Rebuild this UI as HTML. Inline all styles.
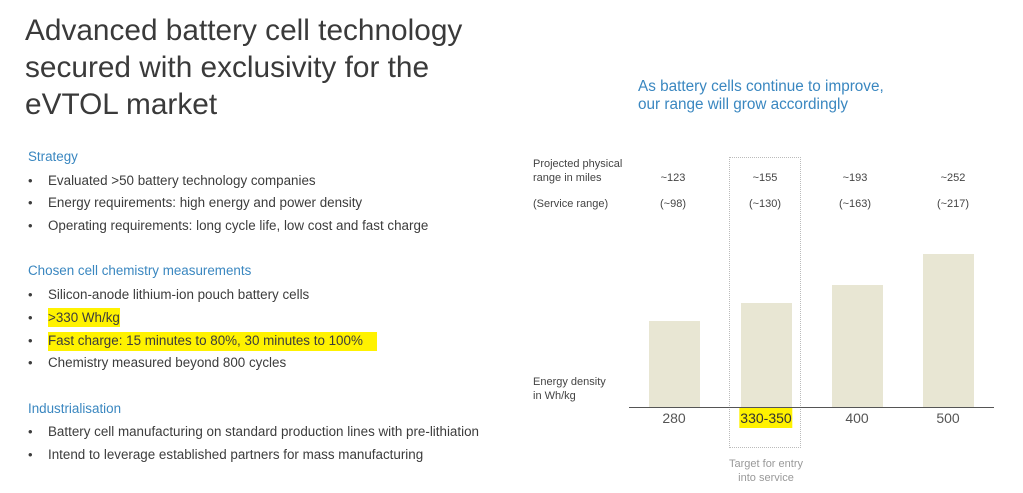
<!DOCTYPE html>
<html><head><meta charset="utf-8"><style>
body{margin:0;width:1023px;height:493px;background:#fff;font-family:"Liberation Sans",sans-serif;position:relative;overflow:hidden;color:#3c3c3c}
.a{position:absolute;white-space:nowrap}
.t{font-size:29.8px;line-height:37px;left:25px;top:12px;color:#3a3a3a}
.h{font-size:13.4px;color:#3a87c0;left:28px}
.b{font-size:13.4px;left:48px}
.d{font-size:13px;left:28px}
.hl{background:#fff200}
.s{font-size:11px;color:#444}
.c{transform:translateX(-50%);text-align:center}
</style></head><body>
<div class="a t">Advanced battery cell technology<br>secured with exclusivity for the<br>eVTOL market</div>
<div class="a h" style="top:149px">Strategy</div>
<div class="a d" style="top:173px">•</div><div class="a b" style="top:173px">Evaluated &gt;50 battery technology companies</div>
<div class="a d" style="top:195px">•</div><div class="a b" style="top:195px">Energy requirements: high energy and power density</div>
<div class="a d" style="top:218px">•</div><div class="a b" style="top:218px">Operating requirements: long cycle life, low cost and fast charge</div>
<div class="a h" style="top:263px">Chosen cell chemistry measurements</div>
<div class="a d" style="top:287px">•</div><div class="a b" style="top:287px">Silicon-anode lithium-ion pouch battery cells</div>
<div class="a d" style="top:310px">•</div><div class="a b hl" style="top:308px;padding:2px 0">&gt;330 Wh/kg</div>
<div class="a d" style="top:333px">•</div><div class="a b hl" style="top:332px;padding:1px 14px 3px 0">Fast charge: 15 minutes to 80%, 30 minutes to 100%</div>
<div class="a d" style="top:355px">•</div><div class="a b" style="top:355px">Chemistry measured beyond 800 cycles</div>
<div class="a h" style="top:401px">Industrialisation</div>
<div class="a d" style="top:424px">•</div><div class="a b" style="top:424px">Battery cell manufacturing on standard production lines with pre-lithiation</div>
<div class="a d" style="top:447px">•</div><div class="a b" style="top:447px">Intend to leverage established partners for mass manufacturing</div>

<div class="a" style="left:638px;top:78px;font-size:15.3px;line-height:18px;color:#3a87c0">As battery cells continue to improve,<br>our range will grow accordingly</div>
<div class="a s" style="left:533px;top:157px;line-height:14px">Projected physical<br>range in miles</div>
<div class="a s" style="left:533px;top:198px">(Service range)</div>
<div class="a s" style="left:533px;top:375px;line-height:14px">Energy density<br>in Wh/kg</div>

<div class="a" style="left:729px;top:157px;width:70px;height:289px;border:1px dotted #bbb"></div>
<div class="a" style="left:649px;top:321px;width:51px;height:86px;background:#e8e6d3"></div>
<div class="a" style="left:741px;top:303px;width:51px;height:104px;background:#e8e6d3"></div>
<div class="a" style="left:832px;top:285px;width:51px;height:122px;background:#e8e6d3"></div>
<div class="a" style="left:923px;top:254px;width:51px;height:153px;background:#e8e6d3"></div>
<div class="a" style="left:629px;top:407px;width:365px;height:1px;background:#555"></div>

<div class="a s c" style="left:673px;top:172px">~123</div>
<div class="a s c" style="left:765px;top:172px">~155</div>
<div class="a s c" style="left:855px;top:172px">~193</div>
<div class="a s c" style="left:953px;top:172px">~252</div>
<div class="a s c" style="left:673px;top:198px">(~98)</div>
<div class="a s c" style="left:765px;top:198px">(~130)</div>
<div class="a s c" style="left:855px;top:198px">(~163)</div>
<div class="a s c" style="left:953px;top:198px">(~217)</div>

<div class="a c" style="left:674px;top:410px;font-size:14px;color:#555">280</div>
<div class="a c hl" style="left:766px;top:408px;font-size:14px;padding:2px 1px;color:#333">330-350</div>
<div class="a c" style="left:857px;top:410px;font-size:14px;color:#555">400</div>
<div class="a c" style="left:948px;top:410px;font-size:14px;color:#555">500</div>
<div class="a c" style="left:766px;top:457px;font-size:11px;line-height:14px;color:#999">Target for entry<br>into service</div>
</body></html>
